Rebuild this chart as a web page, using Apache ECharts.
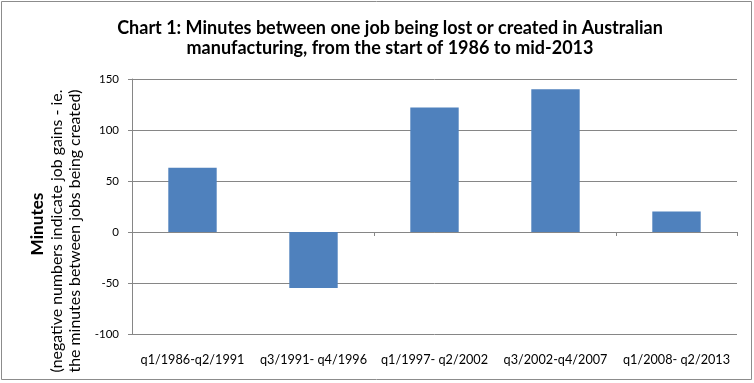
<!DOCTYPE html>
<html>
<head>
<meta charset="utf-8">
<script src="https://cdn.jsdelivr.net/npm/echarts@6/dist/echarts.min.js"></script>
<style>
  html, body { margin: 0; padding: 0; background: #fff; }
  #chart { width: 754px; height: 383px; }
</style>
</head>
<body>
<div id="chart"></div>
<script>
// ---- Data ----
const categories = ['q1/1986-q2/1991', 'q3/1991- q4/1996', 'q1/1997- q2/2002', 'q3/2002-q4/2007', 'q1/2008- q2/2013'];
const values = [63, -55, 122, 140, 20];
const yMin = -100;
const yMax = 150;
const yInterval = 50;
const titleLines = ['Chart 1: Minutes between one job being lost or created in Australian', 'manufacturing, from the start of 1986 to mid-2013'];
const yTitleLines = ['Minutes', '(negative numbers indicate job gains - ie.', 'the minutes between jobs being created)'];

// ---- Styling helpers ----
const FAMILY = 'Lato, "Open Sans", sans-serif';
const ctx = document.createElement('canvas').getContext('2d');
function fit(text, weight, target) {
  ctx.font = weight + ' 100px ' + FAMILY;
  return 100 * target / ctx.measureText(text).width;
}
const titleSize = fit(titleLines[0], 'bold', 546);
const xLabelSize = fit(categories[0], 'normal', 104);
const yLabelSize = fit('150', 'normal', 20);
const yTitleSize = fit(yTitleLines[1], 'normal', 283);
const yTitleBoldSize = yTitleSize * 1.08;

const chart = echarts.init(document.getElementById('chart'), null, { renderer: 'canvas' });
const grey = '#868686';

chart.setOption({
  animation: false,
  backgroundColor: '#fff',
  grid: { left: 132, right: 17, top: 79, bottom: 49, containLabel: false },
  xAxis: [
    {
      type: 'category',
      data: categories,
      axisLine: { show: true, onZero: true, lineStyle: { color: grey, width: 1 } },
      axisTick: { show: true, alignWithLabel: false, length: 4, lineStyle: { color: grey } },
      axisLabel: { show: false }
    },
    {
      type: 'category',
      data: categories,
      position: 'bottom',
      axisLine: { show: false, onZero: false },
      axisTick: { show: false },
      axisLabel: { show: true, margin: 19, color: '#000', fontFamily: FAMILY, fontSize: xLabelSize, interval: 0 }
    }
  ],
  yAxis: {
    type: 'value',
    min: yMin,
    max: yMax,
    interval: yInterval,
    axisLine: { show: true, lineStyle: { color: grey, width: 1 } },
    axisTick: { show: true, length: 4, lineStyle: { color: grey } },
    axisLabel: { margin: 13, color: '#000', fontFamily: FAMILY, fontSize: yLabelSize },
    splitLine: { show: true, lineStyle: { color: grey, width: 1 } }
  },
  series: [{
    type: 'bar',
    xAxisIndex: 0,
    data: values,
    barWidth: '40%',
    itemStyle: { color: '#4F81BD' }
  }],
  graphic: [
    {
      type: 'rect', silent: true,
      shape: { x: 1.5, y: 1.5, width: 750, height: 378 },
      style: { fill: 'none', stroke: '#8c8c8c', lineWidth: 1 }
    },
    {
      type: 'text', x: 390, y: 28,
      style: { text: titleLines[0], font: 'bold ' + titleSize + 'px ' + FAMILY, fill: '#000', textAlign: 'center', textVerticalAlign: 'middle' }
    },
    {
      type: 'text', x: 390, y: 48,
      style: { text: titleLines[1], font: 'bold ' + titleSize + 'px ' + FAMILY, fill: '#000', textAlign: 'center', textVerticalAlign: 'middle' }
    },
    {
      type: 'text', x: 37, y: 224, rotation: Math.PI / 2,
      style: { text: yTitleLines[0], font: 'bold ' + yTitleBoldSize + 'px ' + FAMILY, fill: '#000', textAlign: 'center', textVerticalAlign: 'middle' }
    },
    {
      type: 'text', x: 57, y: 231, rotation: Math.PI / 2,
      style: { text: yTitleLines[1], font: 'normal ' + yTitleSize + 'px ' + FAMILY, fill: '#000', textAlign: 'center', textVerticalAlign: 'middle' }
    },
    {
      type: 'text', x: 75, y: 231, rotation: Math.PI / 2,
      style: { text: yTitleLines[2], font: 'normal ' + yTitleSize + 'px ' + FAMILY, fill: '#000', textAlign: 'center', textVerticalAlign: 'middle' }
    }
  ]
});
</script>
</body>
</html>
